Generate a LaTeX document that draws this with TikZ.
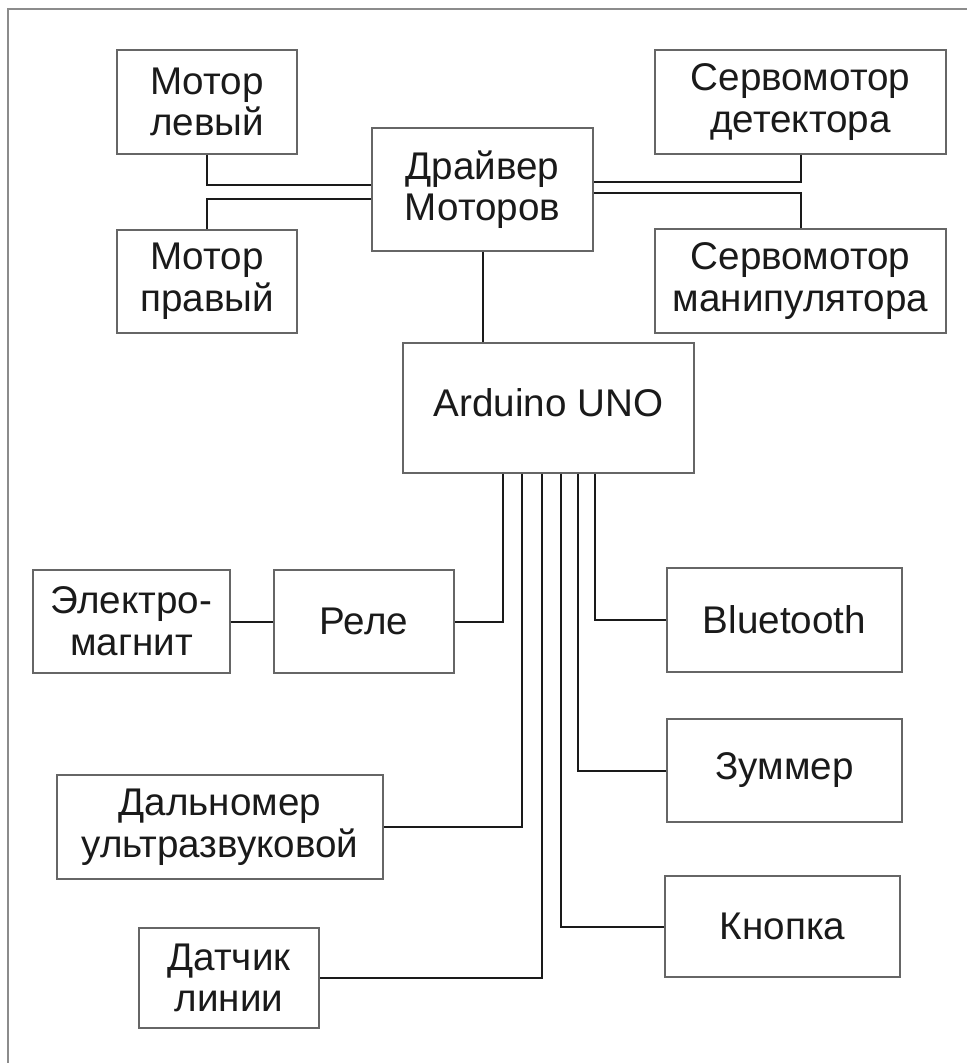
\documentclass[tikz,border=0pt]{standalone}
\usepackage{fontspec}
\setmainfont{Liberation Sans}
\usetikzlibrary{calc}
\definecolor{blink}{HTML}{1A1A1A}
\definecolor{blgray}{HTML}{666666}
\definecolor{blframe}{HTML}{8C8C8C}
\tikzset{
  bl box/.style={draw=blgray, line width=0.6pt, fill=white, align=center,
    text=blink, font=\fontsize{19.3}{20.8}\selectfont, inner sep=0pt},
  bl wire/.style={draw=blink, line width=1pt},
  bl frame/.style={draw=blframe, line width=0.8pt}
}

\begin{document}
\begin{tikzpicture}[x=0.5pt, y=-0.5pt]
  \useasboundingbox (0,0) rectangle (967,1063);
  \draw[bl frame] (8,1063) -- (8,9) -- (967,9);
  % motor driver group
  \node[bl box, minimum width=90pt, minimum height=52pt] (motorL) at (207,102) {Мотор\\левый};
  \node[bl box, minimum width=90pt, minimum height=51.5pt] (motorR) at (207,281.5) {Мотор\\правый};
  \node[bl box, minimum width=110.5pt, minimum height=61.5pt] (driver) at (482.5,189.5) {Драйвер\\Моторов};
  \node[bl box, minimum width=145.5pt, minimum height=52pt] (servoD) at (800.5,102) {Сервомотор\\детектора};
  \node[bl box, minimum width=145.5pt, minimum height=52pt] (servoM) at (800.5,281) {Сервомотор\\манипулятора};
  \node[bl box, minimum width=145.5pt, minimum height=65pt, text depth=5pt] (arduino) at (548.5,408) {Arduino UNO};
  % peripherals
  \node[bl box, minimum width=98.5pt, minimum height=51.5pt] (magnet) at (131.5,621.5) {Электро-\\магнит};
  \node[bl box, minimum width=90pt, minimum height=51.5pt] (relay) at (364,621.5) {Реле};
  \node[bl box, minimum width=163pt, minimum height=52pt] (ranger) at (220,827) {Дальномер\\ультразвуковой};
  \node[bl box, minimum width=90pt, minimum height=50pt] (lineS) at (229,978) {Датчик\\линии};
  \node[bl box, minimum width=117.5pt, minimum height=52pt] (bt) at (784.5,620) {Bluetooth};
  \node[bl box, minimum width=117.5pt, minimum height=51.5pt] (buzzer) at (784.5,770.5) {Зуммер};
  \node[bl box, minimum width=117.5pt, minimum height=50.5pt] (button) at (782.5,926.5) {Кнопка};

  \draw[bl wire] (motorL.south) |- ($(driver.west)+(0,-4.5)$);
  \draw[bl wire] (motorR.north) |- ($(driver.west)+(0,9.5)$);
  \draw[bl wire] (servoD.south) |- ($(driver.east)+(0,-7.5)$);
  \draw[bl wire] (servoM.north) |- ($(driver.east)+(0,3.5)$);
  \draw[bl wire] (driver.south) -- (driver.south |- arduino.north);
  \draw[bl wire] (magnet.east) -- (relay.west);
  \foreach \dx/\dst/\side in {-45.5/relay/east, -26.5/ranger/east, -6.5/lineS/east,
      12.5/button/west, 29.5/buzzer/west, 46.5/bt/west}
    {\draw[bl wire] ($(arduino.south)+(\dx,0)$) |- (\dst.\side);}
\end{tikzpicture}
\end{document}
